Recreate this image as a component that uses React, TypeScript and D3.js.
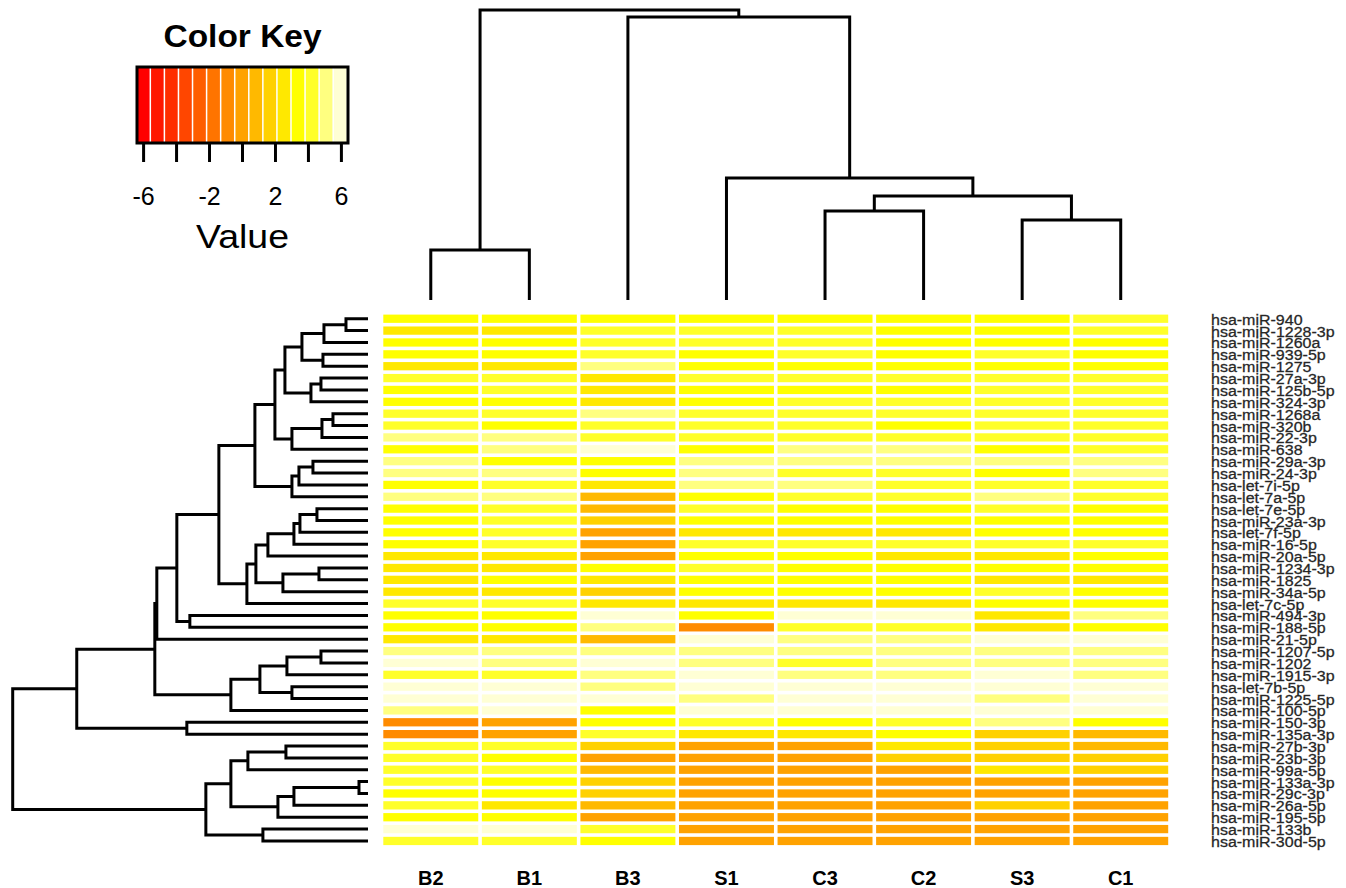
import React from 'react';
import * as d3 from 'd3';

// column samples, in dendrogram order
const samples = ['B2', 'B1', 'B3', 'S1', 'C3', 'C2', 'S3', 'C1'];

// rows, in dendrogram order (top to bottom)
const mirnas = [
  'hsa-miR-940', 'hsa-miR-1228-3p', 'hsa-miR-1260a', 'hsa-miR-939-5p', 'hsa-miR-1275',
  'hsa-miR-27a-3p', 'hsa-miR-125b-5p', 'hsa-miR-324-3p', 'hsa-miR-1268a', 'hsa-miR-320b',
  'hsa-miR-22-3p', 'hsa-miR-638', 'hsa-miR-29a-3p', 'hsa-miR-24-3p', 'hsa-let-7i-5p',
  'hsa-let-7a-5p', 'hsa-let-7e-5p', 'hsa-miR-23a-3p', 'hsa-let-7f-5p', 'hsa-miR-16-5p',
  'hsa-miR-20a-5p', 'hsa-miR-1234-3p', 'hsa-miR-1825', 'hsa-miR-34a-5p', 'hsa-let-7c-5p',
  'hsa-miR-494-3p', 'hsa-miR-188-5p', 'hsa-miR-21-5p', 'hsa-miR-1207-5p', 'hsa-miR-1202',
  'hsa-miR-1915-3p', 'hsa-let-7b-5p', 'hsa-miR-1225-5p', 'hsa-miR-100-5p', 'hsa-miR-150-3p',
  'hsa-miR-135a-3p', 'hsa-miR-27b-3p', 'hsa-miR-23b-3p', 'hsa-miR-99a-5p', 'hsa-miR-133a-3p',
  'hsa-miR-29c-3p', 'hsa-miR-26a-5p', 'hsa-miR-195-5p', 'hsa-miR-133b', 'hsa-miR-30d-5p'
];

// values per sample, same row order as mirnas
const B2 = [3.4, 2.6, 3.5, 3.3, 2.5, 4.1, 3.4, 3.6, 4.2, 4.0, 5.0, 3.5, 5.2, 5.0, 3.3, 5.1, 3.4, 3.5, 3.3, 3.4, 2.6, 2.7, 2.5, 2.4, 4.1, 3.5, 3.4, 2.6, 5.0, 5.9, 4.2, 6.1, 6.0, 5.2, -0.9, -0.8, 4.1, 4.0, 4.3, 4.1, 3.6, 4.0, 3.5, 5.9, 4.2];
const B1 = [3.5, 2.6, 3.4, 3.4, 2.7, 4.0, 4.1, 3.6, 4.3, 3.7, 5.0, 5.1, 3.6, 4.9, 4.0, 5.2, 4.1, 4.0, 4.2, 4.1, 2.7, 2.6, 3.3, 2.5, 4.2, 3.5, 3.4, 2.5, 5.0, 5.3, 4.1, 5.8, 6.1, 5.9, 0.1, -0.1, 4.2, 3.6, 4.1, 3.5, 3.4, 2.7, 3.5, 6.0, 4.1];
const B3 = [3.5, 4.2, 4.0, 4.1, 5.1, 2.6, 2.4, 2.5, 5.0, 4.2, 4.0, 6.0, 3.5, 3.4, 2.6, 1.1, 0.8, 1.5, 0.2, 0.1, -0.1, 3.4, 2.7, 1.8, 2.5, 5.9, 5.1, 0.9, 5.0, 5.8, 5.2, 4.9, 6.0, 3.4, 3.5, 4.1, 1.6, 0.2, 1.0, 1.8, 1.9, 0.9, 0.1, 4.2, 3.3];
const S1 = [3.6, 4.1, 4.0, 3.5, 3.4, 4.2, 3.5, 3.6, 4.1, 4.0, 4.3, 3.4, 5.0, 5.1, 4.9, 3.6, 4.0, 3.5, 2.8, 4.1, 3.5, 4.0, 3.4, 3.6, 2.6, 3.4, -0.7, 5.9, 5.1, 5.0, 5.8, 6.0, 5.2, 5.9, 4.0, 2.6, 0.0, -0.2, 0.1, -0.1, 0.2, 0.0, -0.2, 0.1, 0.0];
const C3 = [3.5, 4.0, 4.1, 4.0, 3.6, 4.2, 3.5, 4.0, 4.1, 4.2, 3.9, 5.0, 5.1, 4.0, 4.9, 4.1, 3.6, 3.5, 2.7, 4.0, 3.4, 3.6, 3.5, 3.4, 2.6, 5.9, 4.1, 5.1, 5.0, 4.3, 5.2, 6.0, 5.9, 6.1, 3.5, 2.6, 0.1, -0.2, 0.2, -0.1, 0.0, -0.2, 0.1, -0.1, 0.0];
const C2 = [3.4, 3.5, 3.6, 3.4, 3.5, 4.1, 3.4, 4.0, 4.2, 3.6, 4.0, 5.1, 5.0, 4.1, 4.0, 4.2, 3.5, 3.4, 2.6, 4.1, 2.7, 3.5, 3.4, 3.6, 2.5, 6.0, 4.2, 5.0, 5.2, 4.9, 5.1, 5.9, 6.0, 5.8, 4.1, 3.4, 2.6, 1.9, 0.1, 0.0, -0.1, 0.2, 0.0, -0.1, 0.1];
const S3 = [3.5, 3.4, 3.6, 4.1, 3.4, 4.0, 4.2, 4.1, 4.0, 4.1, 4.2, 3.5, 5.0, 3.4, 4.0, 5.1, 4.1, 3.5, 3.6, 4.0, 2.6, 3.4, 2.7, 4.1, 3.5, 2.6, 2.5, 5.9, 5.0, 5.1, 6.0, 5.8, 5.2, 6.0, 5.0, 1.7, 1.8, 1.6, 2.5, 0.1, 0.0, 1.7, -0.1, 0.2, 0.0];
const C1 = [4.0, 4.1, 3.5, 3.6, 3.4, 4.2, 4.0, 4.1, 4.3, 4.0, 4.1, 4.0, 5.0, 5.2, 4.1, 4.0, 3.5, 3.4, 3.6, 4.2, 3.5, 3.4, 2.6, 3.5, 3.6, 5.1, 3.4, 6.0, 5.0, 5.2, 4.9, 5.9, 6.0, 6.1, 3.5, 0.9, 1.0, 1.8, 1.6, 0.0, 0.1, -0.1, 0.2, 0.0, -0.1];
const sampleValues = [B2, B1, B3, S1, C3, C2, S3, C1];

// row clustering: negative = leaf (row number), positive = earlier merge
const rowMergeA = [-1, 1, -4, 2, -6, 5, 4, -9, 8, 9, 7, -13, 12, 13, 11, -17, 16, 17, 18, -22, 20, 19, 22, 15, -26, 24, 26, -29, 28, -32, 29, 31, 27, -35, 33, -37, 36, -40, 38, 39, 37, -44, 41, 35];
const rowMergeB = [-2, -3, -5, 3, -7, -8, 6, -10, -11, -12, 10, -14, -15, -16, 14, -18, -19, -20, -21, -23, -24, 21, -25, 23, -27, 25, -28, -30, -31, -33, 30, -34, 32, -36, 34, -38, -39, -41, -42, -43, 40, -45, 42, 43];
const rowMergeH = [22, 44, 45, 66, 47, 57, 83, 35, 46, 76, 93, 55, 69, 76, 113, 51, 68, 74, 100, 49, 85, 112, 121, 149, 178, 191, 211, 47, 81, 76, 108, 137, 213, 181, 291, 82, 120, 9, 74, 90, 137, 105, 162, 355];

// column clustering
const colMergeA = [-1, -5, -7, 2, -4, -3, 1];
const colMergeB = [-2, -6, -8, 3, 4, 5, 6];
const colMergeH = [50, 89, 80, 104, 122, 283, 290];

const keyRange = [-6.4, 6.4];
const keyTicks = [-6, -4, -2, 0, 2, 4, 6];
const keyLabels = ['-6', '', '-2', '', '2', '', '6'];

// R's heat.colors(15)
const nColors = 15;
const heatColors = (() => {
  const j = Math.floor(nColors / 4);
  const i = nColors - j;
  const out: string[] = [];
  for (let k = 0; k < i; k++) out.push(d3.rgb(255, (255 * k) / (i - 1), 0).formatHex());
  for (let k = 0; k < j; k++) {
    const s = 1 - 1 / (2 * j) - (k * (1 - 1 / j)) / (j - 1);
    out.push(d3.rgb(255, 255, 255 * (1 - s)).formatHex());
  }
  return out;
})();

const font = '"Liberation Sans", Arial, sans-serif';

// rough Arial advance widths (em) for label text, used to pin label length
const charW: Record<string, number> = { m: 0.833, R: 0.722, i: 0.222, l: 0.222, t: 0.278, f: 0.278, s: 0.5, c: 0.5, '-': 0.333 };
const labelEm = (t: string) => t.split('').reduce((a, c) => a + (charW[c] ?? 0.556), 0);

function dendroSegments(ma: number[], mb: number[], hs: number[], leafPos: (i: number) => number) {
  const pos: number[] = [];
  const segs: { a: { p: number; h: number }; b: { p: number; h: number }; h: number }[] = [];
  const get = (r: number) => (r < 0 ? { p: leafPos(-r - 1), h: 0 } : { p: pos[r - 1], h: hs[r - 1] });
  for (let k = 0; k < ma.length; k++) {
    const a = get(ma[k]);
    const b = get(mb[k]);
    pos[k] = (a.p + b.p) / 2;
    segs.push({ a, b, h: hs[k] });
  }
  return segs;
}

export default function App() {
  const x = d3.scaleBand().domain(samples).range([381.5, 1170]);
  const y = d3.scaleBand().domain(mirnas).range([312.8, 846.9]);
  const color = d3.scaleQuantize<string>().domain(keyRange).range(heatColors);

  const colH = d3.scaleLinear().domain([0, d3.max(colMergeH)!]).range([300, 10]);
  const rowH = d3.scaleLinear().domain([0, d3.max(rowMergeH)!]).range([368, 12.7]);

  const colSegs = dendroSegments(colMergeA, colMergeB, colMergeH, i => x(samples[i])! + x.bandwidth() / 2);
  const rowSegs = dendroSegments(rowMergeA, rowMergeB, rowMergeH, i => y(mirnas[i])! + y.bandwidth() / 2);

  const keyX = d3.scaleLinear().domain(keyRange).range([137, 348]);
  const binW = (keyRange[1] - keyRange[0]) / nColors;
  const keyTop = 67;
  const keyBottom = 143;

  return (
    <svg width={1346} height={888} style={{ position: 'absolute', left: 0, top: 0, background: '#fff' }}>
      {/* colour key */}
      <text x={242.5} y={47} textAnchor="middle" fontFamily={font} fontWeight="bold" fontSize={31} textLength={158} lengthAdjust="spacingAndGlyphs">Color Key</text>
      {heatColors.map((c, k) => (
        <rect key={k} x={keyX(keyRange[0] + k * binW)} y={keyTop} width={keyX(keyRange[0] + binW) - keyX(keyRange[0]) - 1.5} height={keyBottom - keyTop} fill={c} />
      ))}
      <rect x={keyX(keyRange[0])} y={keyTop} width={keyX(keyRange[1]) - keyX(keyRange[0])} height={keyBottom - keyTop} fill="none" stroke="#000" strokeWidth={3} />
      {keyTicks.map((t, k) => (
        <g key={t}>
          <line x1={keyX(t)} x2={keyX(t)} y1={keyBottom} y2={162} stroke="#000" strokeWidth={3} />
          {keyLabels[k] && (
            <text x={keyX(t)} y={205} textAnchor="middle" fontFamily={font} fontSize={25}>{keyLabels[k]}</text>
          )}
        </g>
      ))}
      <text x={242.5} y={248} textAnchor="middle" fontFamily={font} fontSize={33} textLength={93} lengthAdjust="spacingAndGlyphs">Value</text>

      {/* column dendrogram */}
      <g fill="none" stroke="#000" strokeWidth={3}>
        {colSegs.map((s, k) => (
          <path key={k} d={`M${s.a.p},${colH(s.a.h)}V${colH(s.h)}H${s.b.p}V${colH(s.b.h)}`} />
        ))}
      </g>

      {/* row dendrogram */}
      <g fill="none" stroke="#000" strokeWidth={3}>
        {rowSegs.map((s, k) => (
          <path key={k} d={`M${rowH(s.a.h)},${s.a.p}H${rowH(s.h)}V${s.b.p}H${rowH(s.b.h)}`} />
        ))}
      </g>

      {/* heatmap */}
      {samples.map((s, ci) =>
        mirnas.map((m, ri) => (
          <rect
            key={s + m}
            x={x(s)! + 1.8}
            y={y(m)! + 1.8}
            width={x.bandwidth() - 3.6}
            height={y.bandwidth() - 3.6}
            fill={color(sampleValues[ci][ri])}
          />
        ))
      )}

      {/* row labels */}
      {mirnas.map(m => (
        <text
          key={m}
          x={1211}
          y={y(m)! + y.bandwidth() / 2 + 6}
          fontFamily={font}
          fontSize={15.5}
          fill="#222"
          stroke="#333"
          strokeWidth={0.3}
          textLength={labelEm(m) * 16}
          lengthAdjust="spacingAndGlyphs"
        >
          {m}
        </text>
      ))}

      {/* column labels */}
      {samples.map(s => (
        <text key={s} x={x(s)! + x.bandwidth() / 2} y={885} textAnchor="middle" fontFamily={font} fontWeight="bold" fontSize={20}>{s}</text>
      ))}
    </svg>
  );
}
